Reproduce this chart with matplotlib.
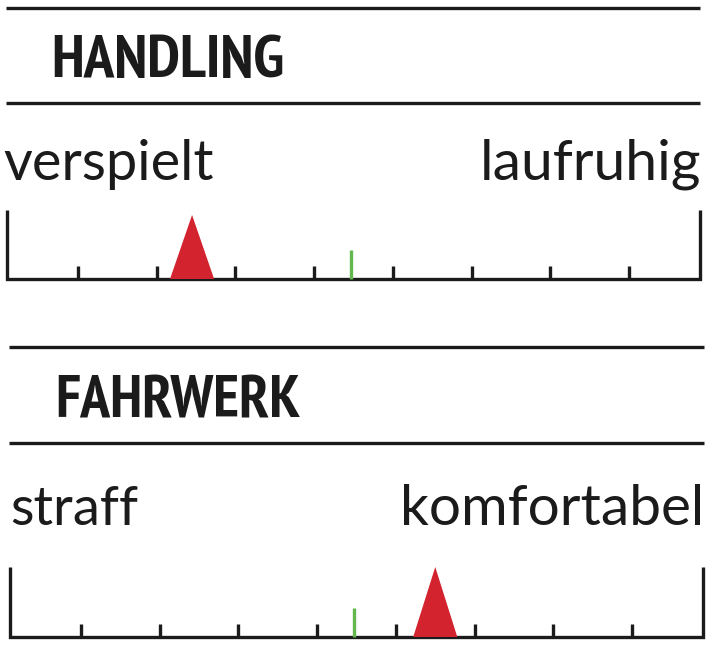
import matplotlib
matplotlib.use('Agg')
import matplotlib.pyplot as plt
from matplotlib.patches import Polygon
from matplotlib import font_manager
from matplotlib.font_manager import FontProperties
from matplotlib.textpath import TextPath

W, H = 712, 647
DPI = 100

# ---- data ----
titles = ["HANDLING", "FAHRWERK"]
left_labels = ["verspielt", "straff"]
right_labels = ["laufruhig", "komfortabel"]
scale_ticks = [1, 2, 3, 4, 5, 6, 7, 8]
ratings = [2.45, 5.5]
averages = [4.47, 4.47]

INK = '#1b1b1b'
RED = '#d2232e'
GREEN = '#62b84d'


def ink_box(s, prop, size=100):
    ext = TextPath((0, 0), s, size=size, prop=prop).get_extents()
    return ext.x0, ext.x1, ext.y0, ext.y1


# pick the bold upright font whose "HANDLING" shape is closest to the reference
TARGET_RATIO = 227 / 44
best = None
seen = set()
for f in font_manager.fontManager.ttflist:
    if f.fname in seen:
        continue
    seen.add(f.fname)
    try:
        w = f.weight if isinstance(f.weight, int) else int(f.weight)
    except Exception:
        w = 700 if 'bold' in str(f.weight).lower() else 400
    if w < 600 or f.style != 'normal' or 'CJK' in f.name or 'Mono' in f.name or 'Serif' in f.name:
        continue
    if f.fname.lower().endswith(('.ttc', '.otc')):
        continue
    try:
        prop = FontProperties(fname=f.fname)
        x0, x1, y0, y1 = ink_box('HANDLING', prop)
        r = (x1 - x0) / (y1 - y0)
    except Exception:
        continue
    if best is None or abs(r - TARGET_RATIO) < abs(best[0] - TARGET_RATIO):
        best = (r, f.fname)
TITLE_PROP = FontProperties(fname=best[1]) if best else FontProperties(family='DejaVu Sans', weight='bold')

names = {f.name for f in font_manager.fontManager.ttflist}
LABEL_PROP = FontProperties(family='Lato' if 'Lato' in names else 'DejaVu Sans')

fig = plt.figure(figsize=(W / DPI, H / DPI), dpi=DPI)
fig.patch.set_facecolor('white')


def fx(x):
    return x / W


def fy(y):
    return 1 - y / H


def place(s, prop, left, right, base, top, mode='width', anchor='left'):
    """Place text so its ink spans left..right (pixels) with baseline at base."""
    x0, x1, y0, y1 = ink_box(s, prop, 100)
    sw = (right - left) / (x1 - x0)
    sh = (base - top) / y1
    if mode == 'width':
        k = sw
    elif mode == 'height':
        k = sh
    else:
        k = (sw * sh) ** 0.5
    if anchor == 'left':
        xpos = left - x0 * k
    else:
        xpos = right - x1 * k
    fig.text(fx(xpos), fy(base), s, fontproperties=prop, fontsize=100 * k * 72 / DPI,
             ha='left', va='baseline', color=INK)


blocks = [
    dict(rule_y=(8, 102.5), rule_x=(6, 700), title_box=(54, 281, 77, 33),
         label_base=180, label_top=140, left_box=(4, 213), right_box=(484, 700),
         scale_x=(7, 700), scale_base=279, scale_top=210, tri_h=64),
    dict(rule_y=(347, 443), rule_x=(9, 704), title_box=(58, 303, 417, 375),
         label_base=525, label_top=485, left_box=(12, 138), right_box=(404, 700),
         scale_x=(10, 703), scale_base=637, scale_top=567, tri_h=70),
]

LW = 2.4
for i, b in enumerate(blocks):
    for ry in b['rule_y']:
        fig.add_artist(plt.Line2D([fx(b['rule_x'][0]), fx(b['rule_x'][1])], [fy(ry), fy(ry)],
                                  color=INK, lw=LW, solid_capstyle='butt'))
    l, r_, base, top = b['title_box']
    place(titles[i], TITLE_PROP, l, r_, base, top, mode='mean')
    place(left_labels[i], LABEL_PROP, b['left_box'][0], b['left_box'][1],
          b['label_base'], b['label_top'])
    place(right_labels[i], LABEL_PROP, b['right_box'][0], b['right_box'][1],
          b['label_base'], b['label_top'], anchor='right')

    x0, x1 = b['scale_x']
    base, top = b['scale_base'], b['scale_top']
    h = base - top
    ax = fig.add_axes([fx(x0), fy(base), (x1 - x0) / W, h / H])
    ax.set_xlim(0.1, 8.9)
    ax.set_ylim(0, h)
    ax.axis('off')
    ax.plot([0.1, 0.1, 8.9, 8.9], [h, 0, 0, h], color=INK, lw=LW,
            solid_joinstyle='miter', solid_capstyle='butt', clip_on=False, zorder=2)
    ax.vlines(scale_ticks, 0, 13, color=INK, lw=LW, clip_on=False, zorder=2)
    ax.vlines([averages[i]], 0, 29, color=GREEN, lw=LW, clip_on=False, zorder=3)
    rv = ratings[i]
    ax.add_patch(Polygon([(rv - 0.28, 0), (rv, b['tri_h']), (rv + 0.28, 0)], closed=True,
                         facecolor=RED, edgecolor='none', clip_on=False, zorder=4))

fig.savefig('out.png', dpi=DPI, facecolor='white')
